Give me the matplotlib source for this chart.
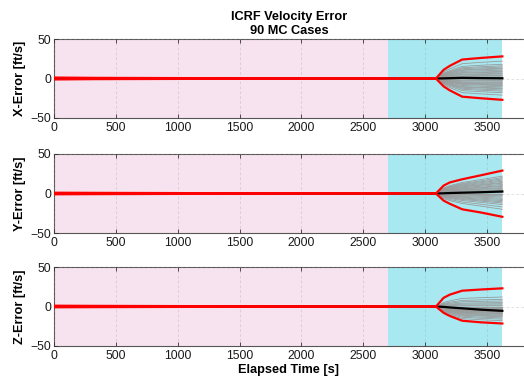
import numpy as np
import matplotlib.pyplot as plt

plt.rcParams['font.family'] = ['Liberation Sans', 'DejaVu Sans']

# sample times of the Monte Carlo trajectories [s]
t = [0, 330, 1050, 2000, 3090, 3150, 3200, 3300, 3450, 3625]

# 3-sigma style envelopes and mean error per axis [ft/s]
x_upper = [1.2, 0.8, 0.5, 0.4, 0.3, 11, 16, 24, 26, 28]
x_lower = [-1.2, -0.8, -0.5, -0.4, -0.3, -10, -15, -23, -25, -27]
x_mean = [0, 0, 0, 0, 0, 0.2, 0.4, 0.8, 0.5, 0.3]

y_upper = [1.0, 0.8, 0.5, 0.4, 0.3, 10, 14, 18, 23, 29]
y_lower = [-1.0, -0.8, -0.5, -0.4, -0.3, -9, -13, -20, -24, -29.5]
y_mean = [0, 0, 0, 0, 0, 0.3, 0.6, 1.0, 1.6, 2.5]

z_upper = [1.0, 0.8, 0.5, 0.4, 0.3, 11, 15, 20, 21.5, 23]
z_lower = [-1.0, -0.8, -0.5, -0.4, -0.3, -8, -12, -18, -20, -21.5]
z_mean = [0, 0, 0, 0, 0, -0.5, -1.2, -2.3, -4.0, -5.5]

# normalized growth of each case after divergence
x_growth = [0, 0, 0, 0, 0, 0.38, 0.55, 0.85, 0.93, 1.0]
y_growth = [0, 0, 0, 0, 0, 0.32, 0.45, 0.63, 0.80, 1.0]
z_growth = [0, 0, 0, 0, 0, 0.42, 0.60, 0.85, 0.93, 1.0]

# final error of individual cases [ft/s]
x_case_end = [-21, -18, -16, -14.5, -13, -12, -10.5, -9, -8, -7, -6, -5, -3.5, -2.5, -1,
              0.5, 1.5, 3, 4, 5.5, 6.5, 8, 9, 10.5, 12, 13, 14.5, 16, 18, 22]
y_case_end = [-20, -17, -14, -12, -10.5, -9, -7.5, -6, -4.5, -3, -2, -1, 0, 1, 2,
              3, 4, 5, 6.5, 7.5, 9, 10, 11.5, 13, 14, 15.5, 17, 18.5, 20, 22]
z_case_end = [-18, -16, -14.5, -13, -12, -11, -10, -9, -8.5, -7.5, -7, -6.5, -6, -5.5, -5,
              -4.5, -4, -3.5, -3, -2.5, -2, -1, 0, 1, 2, 3.5, 5, 7, 9, 12]

panels = [
    ('X-Error [ft/s]', x_upper, x_lower, x_mean, x_growth, x_case_end),
    ('Y-Error [ft/s]', y_upper, y_lower, y_mean, y_growth, y_case_end),
    ('Z-Error [ft/s]', z_upper, z_lower, z_mean, z_growth, z_case_end),
]

phase_split = 2700
t_end = 3625

fig = plt.figure(figsize=(5.24, 3.85), dpi=100)
W, H = 524, 385
tops = [39, 154, 267]
bottoms = [118, 233, 346]

for i, (label, upper, lower, mean, growth, ends) in enumerate(panels):
    ax = fig.add_axes([54 / W, 1 - bottoms[i] / H, 470 / W, (bottoms[i] - tops[i]) / H])
    ax.axvspan(0, phase_split, color='#F7E3EF', zorder=0, lw=0)
    ax.axvspan(phase_split, t_end, color='#A8E8F1', zorder=0, lw=0)

    g = np.array(growth)
    for e in ends:
        ax.plot(t, g * e, color='#9A9A9A', lw=0.6, zorder=2)
    ax.plot(t, mean, color='black', lw=1.6, zorder=3)
    ax.plot(t, upper, color='#FF0000', lw=1.6, zorder=4)
    ax.plot(t, lower, color='#FF0000', lw=1.6, zorder=4)

    ax.set_xlim(0, 3800)
    ax.set_ylim(-50, 50)
    ax.set_xticks(range(0, 3501, 500))
    ax.set_yticks([-50, 0, 50])
    ax.grid(True, color='#999999', lw=0.5, ls=(0, (4, 3)), alpha=0.4, zorder=1)
    ax.set_axisbelow(False)
    ax.tick_params(direction='in', length=3, width=0.6, labelsize=8.8, pad=3,
                   colors='#333333', labelcolor='#1a1a1a', top=True)
    ax.tick_params(axis='y', pad=2)
    for s in ax.spines.values():
        s.set_color('#555555')
        s.set_linewidth(0.8)
    ax.spines['right'].set_visible(False)
    ax.set_ylabel(label, fontsize=9.2, fontweight='bold', labelpad=3)
    if i == 2:
        ax.set_xlabel('Elapsed Time [s]', fontsize=9.2, fontweight='bold', labelpad=1)

fig.text(289 / W, 1 - 37 / H, 'ICRF Velocity Error\n90 MC Cases', ha='center', va='bottom',
         fontsize=9.2, fontweight='bold', linespacing=1.2)

fig.savefig('out.png', dpi=100)
